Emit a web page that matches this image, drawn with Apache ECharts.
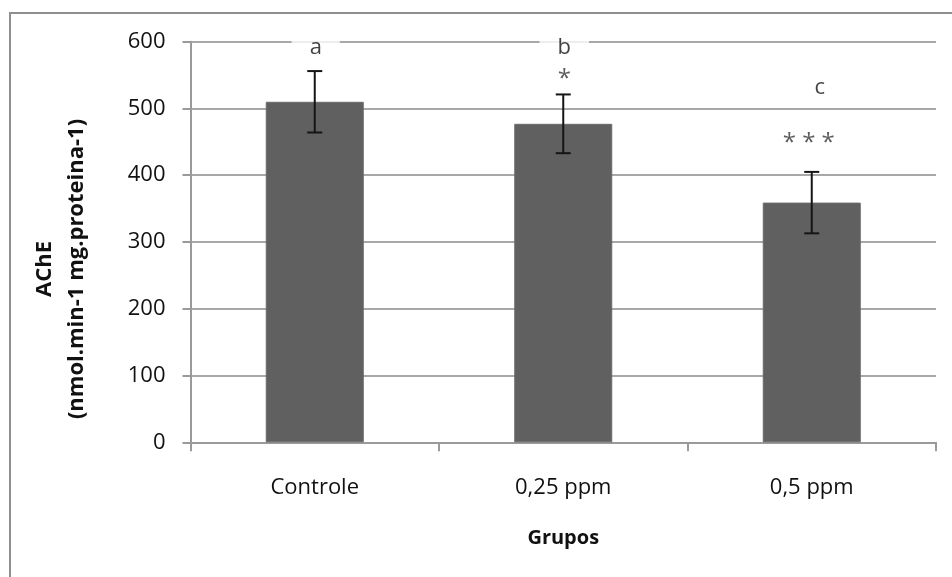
<!DOCTYPE html>
<html>
<head>
<meta charset="utf-8">
<script src="https://cdn.jsdelivr.net/npm/echarts@6/dist/echarts.min.js"></script>
<style>
html,body{margin:0;padding:0;background:#fff;}
#chart{width:952px;height:577px;}
</style>
</head>
<body>
<div id="chart"></div>
<script>
// ---- data ----
const categories = ['Controle', '0,25 ppm', '0,5 ppm'];
const means = [510, 477, 359];
const errors = [46, 44, 46];
const groupLetters = ['a', 'b', 'c'];
const letterValues = [591, 591, 531];
const starLabels = ['*', '* * *'];
const starCategories = ['0,25 ppm', '0,5 ppm'];
const starValues = [544, 448];
const yMin = 0, yMax = 600, yInterval = 100;
const xTitle = 'Grupos';
const yTitle = 'AChE\n(nmol.min-1 mg.proteina-1)';

const FONT = "'Open Sans', 'Noto Sans', sans-serif";
const chart = echarts.init(document.getElementById('chart'), null, {renderer: 'canvas'});

const errData = categories.map((c, i) => [i, means[i] - errors[i], means[i] + errors[i]]);
const letterData = categories.map((c, i) => ({
  value: [c, letterValues[i]],
  label: { formatter: groupLetters[i], offset: i === 2 ? [8, 0] : [1, 0] }
}));
const starData = starCategories.map((c, i) => ({
  value: [c, starValues[i]],
  label: { formatter: starLabels[i], offset: i === 1 ? [-3, 0] : [1, 0] }
}));

chart.setOption({
  animation: false,
  backgroundColor: '#fff',
  grid: { left: 190.5, right: 16, top: 41.7, bottom: 134.7, containLabel: false, outerBoundsMode: 'none' },
  graphic: [
    { type: 'rect', z: -10, shape: { x: 10, y: 13, width: 1000, height: 1000 },
      style: { fill: 'none', stroke: '#8f8f8f', lineWidth: 2 } },
    { type: 'text', x: 61, y: 269, rotation: Math.PI / 2,
      style: { text: yTitle, font: 'bold 22px ' + FONT, align: 'center', verticalAlign: 'middle',
               lineHeight: 32, fill: '#111' } }
  ],
  xAxis: {
    type: 'category',
    data: categories,
    boundaryGap: true,
    name: xTitle,
    nameLocation: 'middle',
    nameGap: 86,
    nameTextStyle: { fontFamily: FONT, fontSize: 20, fontWeight: 'bold', color: '#111' },
    axisLine: { lineStyle: { color: '#9a9a9a', width: 2 } },
    axisTick: { show: true, length: 9, alignWithLabel: false, lineStyle: { color: '#9a9a9a', width: 2 } },
    axisLabel: { margin: 34, fontFamily: FONT, fontSize: 22, color: '#111' },
    splitLine: { show: false }
  },
  yAxis: {
    type: 'value',
    min: yMin, max: yMax, interval: yInterval,
    axisLine: { show: true, lineStyle: { color: '#9a9a9a', width: 2 } },
    axisTick: { show: true, length: 8, lineStyle: { color: '#9a9a9a', width: 2 } },
    axisLabel: { margin: 25, fontFamily: FONT, fontSize: 22, color: '#111' },
    splitLine: { show: true, lineStyle: { color: '#a8a8a8', width: 2 } }
  },
  series: [
    {
      type: 'bar',
      data: means,
      barWidth: 98,
      itemStyle: { color: '#606060', borderColor: '#6a6a6a', borderWidth: 1 },
      z: 2
    },
    {
      type: 'custom',
      data: errData,
      z: 5,
      renderItem: function (params, api) {
        const x = api.value(0);
        const lo = api.coord([x, api.value(1)]);
        const hi = api.coord([x, api.value(2)]);
        const hw = 7.5;
        const st = { stroke: '#151515', lineWidth: 2 };
        return {
          type: 'group',
          children: [
            { type: 'line', shape: { x1: hi[0], y1: hi[1], x2: lo[0], y2: lo[1] }, style: st },
            { type: 'line', shape: { x1: hi[0] - hw, y1: hi[1], x2: hi[0] + hw, y2: hi[1] }, style: st },
            { type: 'line', shape: { x1: lo[0] - hw, y1: lo[1], x2: lo[0] + hw, y2: lo[1] }, style: st }
          ]
        };
      }
    },
    {
      type: 'scatter',
      data: letterData,
      symbolSize: 0,
      z: 6,
      label: {
        show: true, position: 'inside', fontFamily: FONT, fontSize: 22, color: '#111',
        backgroundColor: '#fff', padding: [2, 18, 2, 18]
      }
    },
    {
      type: 'scatter',
      data: starData,
      symbolSize: 0,
      z: 6,
      label: {
        show: true, position: 'inside', fontFamily: FONT, fontSize: 24, color: '#333'
      }
    }
  ]
});
</script>
</body>
</html>
